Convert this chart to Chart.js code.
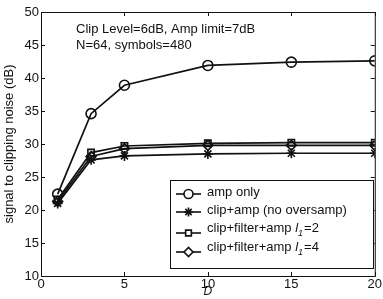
<!DOCTYPE html>
<html>
<head>
<meta charset="utf-8">
<script src="https://cdn.jsdelivr.net/npm/chart.js@4.4.1/dist/chart.umd.min.js"></script>
<style>
  html, body { margin: 0; padding: 0; background: #fff; }
  #wrap { width: 383px; height: 299px; }
</style>
</head>
<body>
<div id="wrap"><canvas id="c"></canvas></div>
<script>
// данные с графика
const D = [1, 3, 5, 10, 15, 20];
const ampOnly = [22.4, 34.6, 38.9, 41.9, 42.4, 42.6];
const clipAmp = [21.0, 27.6, 28.2, 28.5, 28.6, 28.6];
const clipFilt2 = [21.6, 28.7, 29.7, 30.1, 30.2, 30.2];
const clipFilt4 = [21.3, 28.1, 29.3, 29.8, 29.8, 29.8];
const seriesNames = ['amp only', 'clip+amp (no oversamp)', 'clip+filter+amp l1=2', 'clip+filter+amp l1=4'];
const noteLines = ['Clip Level=6dB, Amp limit=7dB', 'N=64, symbols=480'];
const xTicks = [0, 5, 10, 15, 20];
const yTicks = [10, 15, 20, 25, 30, 35, 40, 45, 50];

const FONT = '"Liberation Sans", Arial, Helvetica, sans-serif';
const ink = '#111';

function pts(ys) {
  return D.map((d, i) => ({ x: d, y: ys[i] }));
}

function ds(label, ys, style, r) {
  return {
    label: label,
    data: pts(ys),
    showLine: true,
    borderColor: ink,
    borderWidth: 1.7,
    pointStyle: style,
    pointRadius: r,
    pointBorderWidth: 1.6,
    pointBorderColor: ink,
    pointBackgroundColor: 'rgba(0,0,0,0)',
    tension: 0
  };
}

const datasets = [
  ds(seriesNames[0], ampOnly, 'circle', 5),
  ds(seriesNames[1], clipAmp, 'star', 5),
  ds(seriesNames[2], clipFilt2, 'rect', 4.5),
  ds(seriesNames[3], clipFilt4, 'rectRot', 5)
];

// рамка, внутренние тики, подпись и легенда
const extras = {
  id: 'extras',
  afterDraw(chart) {
    const ctx = chart.ctx;
    const a = chart.chartArea;
    const xs = chart.scales.x, ys = chart.scales.y;
    ctx.save();
    ctx.strokeStyle = ink;
    ctx.lineWidth = 1;
    ctx.strokeRect(a.left + 0.5, a.top + 0.5, a.right - a.left, a.bottom - a.top);
    ctx.beginPath();
    xTicks.forEach(v => {
      const px = Math.round(xs.getPixelForValue(v)) + 0.5;
      ctx.moveTo(px, a.bottom); ctx.lineTo(px, a.bottom - 4);
      ctx.moveTo(px, a.top); ctx.lineTo(px, a.top + 4);
    });
    yTicks.forEach(v => {
      const py = Math.round(ys.getPixelForValue(v)) + 0.5;
      ctx.moveTo(a.left, py); ctx.lineTo(a.left + 4, py);
      ctx.moveTo(a.right, py); ctx.lineTo(a.right - 4, py);
    });
    ctx.stroke();

    // текст в левом верхнем углу
    ctx.fillStyle = ink;
    ctx.font = '13px ' + FONT;
    ctx.textBaseline = 'middle';
    ctx.textAlign = 'left';
    ctx.fillText(noteLines[0], a.left + 35, a.top + 17);
    ctx.fillText(noteLines[1], a.left + 35, a.top + 33);

    // легенда
    const bx = 170, by = 180, bw = 203, bh = 88;
    ctx.fillStyle = '#fff';
    ctx.fillRect(bx, by, bw, bh);
    ctx.strokeRect(bx + 0.5, by + 0.5, bw, bh);
    const rowY = [194, 212, 233, 252];
    const textY = [192, 210, 228, 247];
    datasets.forEach((d, i) => {
      const y = rowY[i];
      ctx.beginPath();
      ctx.lineWidth = 1.6;
      ctx.moveTo(176, y); ctx.lineTo(201, y);
      ctx.stroke();
      ctx.fillStyle = '#fff'; // маркер пустой
      Chart.helpers.drawPoint(ctx, {
        pointStyle: d.pointStyle, radius: d.pointRadius * 0.9, borderWidth: 1.6
      }, 188.5, y);
      drawLabel(ctx, seriesNames[i], 207, textY[i]);
    });
    ctx.restore();
  }
};

function drawLabel(ctx, s, x, y) {
  ctx.fillStyle = ink;
  ctx.textAlign = 'left';
  ctx.textBaseline = 'middle';
  const m = s.match(/^(.*) l1(=.*)$/);
  if (!m) {
    ctx.font = '13px ' + FONT;
    ctx.fillText(s, x, y);
    return;
  }
  ctx.font = '13px ' + FONT;
  ctx.fillText(m[1] + ' ', x, y);
  x += ctx.measureText(m[1] + ' ').width;
  ctx.font = 'italic 13px ' + FONT;
  ctx.fillText('l', x, y);
  x += ctx.measureText('l').width;
  ctx.font = 'italic 9px ' + FONT;
  ctx.fillText('1', x, y + 5);
  x += ctx.measureText('1').width + 1;
  ctx.font = '13px ' + FONT;
  ctx.fillText(m[2], x, y);
}

new Chart(document.getElementById('c'), {
  type: 'scatter',
  data: { datasets: datasets },
  options: {
    responsive: true,
    maintainAspectRatio: false,
    animation: false,
    layout: { padding: { top: 12, right: 5, left: 2, bottom: 0 } },
    plugins: { legend: { display: false }, tooltip: { enabled: false } },
    scales: {
      x: {
        type: 'linear', min: 0, max: 20,
        afterBuildTicks: s => { s.ticks = xTicks.map(v => ({ value: v })); },
        afterFit: s => { s.height = 23; },
        grid: { display: false, drawTicks: false },
        border: { display: false },
        ticks: { color: ink, padding: 1, font: { family: FONT, size: 13 } },
        title: { display: true, text: 'D', color: ink, padding: 0,
                 font: { family: FONT, size: 12, style: 'italic' } }
      },
      y: {
        type: 'linear', min: 10, max: 50,
        afterBuildTicks: s => { s.ticks = yTicks.map(v => ({ value: v })); },
        afterFit: s => { s.width = 39; },
        grid: { display: false, drawTicks: false },
        border: { display: false },
        ticks: { color: ink, padding: 2, font: { family: FONT, size: 13 } },
        title: { display: true, text: 'signal to clipping noise (dB)', color: ink, padding: 0,
                 font: { family: FONT, size: 13 } }
      }
    }
  },
  plugins: [extras]
});
</script>
</body>
</html>
